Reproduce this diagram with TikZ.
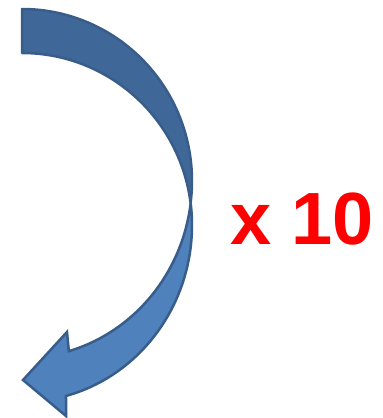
\documentclass[tikz,border=0pt]{standalone}
\usepackage{fontspec}
\setmainfont{Liberation Sans}
\usetikzlibrary{calc}
\definecolor{backblue}{HTML}{3F6797}
\definecolor{frontblue}{HTML}{4F81BD}
\definecolor{edgeblue}{HTML}{385D8A}
\definecolor{countred}{HTML}{FF0000}
\tikzset{
  backband/.style={fill=backblue,draw=edgeblue,line width=2.5pt,line join=round},
  frontband/.style={fill=frontblue,draw=edgeblue,line width=2.5pt,line join=miter},
  bigcount/.style={text=countred,font=\bfseries\fontsize{74}{80}\selectfont,inner sep=0pt}
}
\begin{document}
\begin{tikzpicture}[x=1pt,y=1pt]
\useasboundingbox (0,0) rectangle (383,418);
\draw[backband](22,409) arc[start angle=90,end angle=-7.35,x radius=170,y radius=172]
  -- ($(22,193)+(7.35:170 and 172)$) arc[start angle=7.35,end angle=90,x radius=170,y radius=172] -- cycle;
\draw[frontband]($(22,237)+(-7.35:170 and 177)$) arc[start angle=-7.35,end angle=-74,x radius=170,y radius=177]
  -- (67,86) -- (23,38) -- (66,2) -- ($(22,193)+(-75:170 and 177)$)
  arc[start angle=-75,end angle=7.35,x radius=170,y radius=177] -- cycle;
\node[bigcount,anchor=base west] (count) at (230,173) {x 10};
\end{tikzpicture}
\end{document}
